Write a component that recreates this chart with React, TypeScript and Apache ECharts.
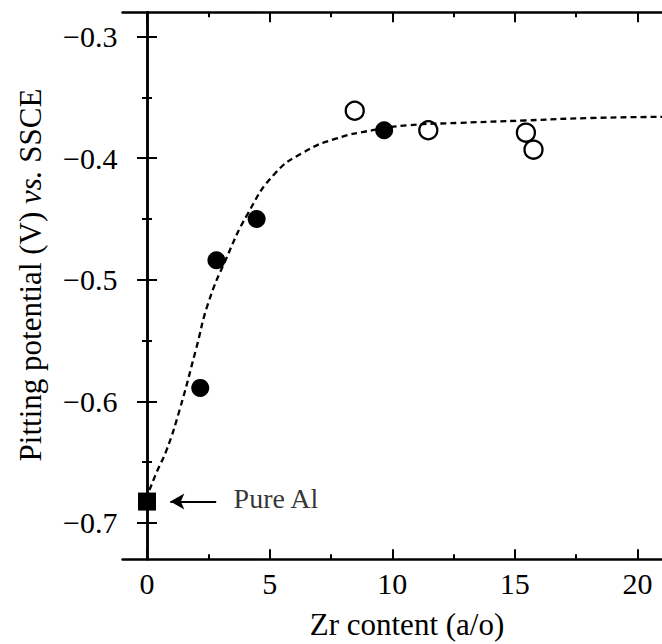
import React, { useEffect, useRef } from 'react';
import * as echarts from 'echarts';

// Data
const pureAlX = [0];
const pureAlY = [-0.6825];
const filledX = [2.17, 2.83, 4.47, 9.67];
const filledY = [-0.589, -0.484, -0.45, -0.377];
const openX = [8.47, 11.47, 15.45, 15.76];
const openY = [-0.361, -0.377, -0.379, -0.393];
const fitX = [0.1, 0.4, 0.8, 1.33, 2.0, 2.5, 3.2, 4.1, 5.2, 6.4, 7.7, 9.2, 10.6, 12.7, 15.4, 18, 21];
const fitY = [-0.673, -0.658, -0.64, -0.607, -0.557, -0.519, -0.484, -0.446, -0.413, -0.395, -0.384, -0.377, -0.373, -0.371, -0.369, -0.367, -0.366];
const xMajor = [0, 5, 10, 15, 20];
const xMinor = [2.5, 7.5, 12.5, 17.5];
const yMajor = [-0.7, -0.6, -0.5, -0.4, -0.3];
const yMinor = [-0.65, -0.55, -0.45, -0.35];
const annotationText = 'Pure Al';
const arrowTailX = 2.82;
const arrowHeadX = 0.95;
const annotationX = 3.53;

const FONT = 'Liberation Serif';

const zip = (xs: number[], ys: number[]) => xs.map((x, i) => [x, ys[i]]);

export default function App() {
  const ref = useRef<HTMLDivElement>(null);
  useEffect(() => {
    if (!ref.current) return;
    const chart = echarts.init(ref.current, undefined, { renderer: 'svg' });
    const axisLine = { show: true, lineStyle: { color: '#000', width: 2.5 } };
    const tickStyle = { color: '#000', width: 2 };
    const xBase = { type: 'value', min: -1, max: 21, gridIndex: 0, splitLine: { show: false } };
    const yBase = { type: 'value', min: -0.73, max: -0.28, gridIndex: 0, splitLine: { show: false } };
    const option: any = {
      animation: false,
      textStyle: { fontFamily: FONT },
      grid: { left: 122.5, top: 12.3, width: 547.5, height: 547, containLabel: false },
      xAxis: [
        {
          ...xBase, position: 'bottom', axisLine,
          axisTick: { show: true, inside: true, length: 10, lineStyle: tickStyle, customValues: xMajor },
          axisLabel: { show: true, customValues: xMajor, fontSize: 30, fontFamily: FONT, color: '#000', margin: 9, formatter: (v: number) => String(v) },
        },
        {
          ...xBase, position: 'bottom', axisLine: { show: false },
          axisTick: { show: true, inside: true, length: 5, lineStyle: tickStyle, customValues: xMinor },
          axisLabel: { show: false },
        },
        {
          ...xBase, position: 'top', axisLine,
          axisTick: { show: true, inside: true, length: 10, lineStyle: tickStyle, customValues: xMajor },
          axisLabel: { show: false },
        },
        {
          ...xBase, position: 'top', axisLine: { show: false },
          axisTick: { show: true, inside: true, length: 5, lineStyle: tickStyle, customValues: xMinor },
          axisLabel: { show: false },
        },
      ],
      yAxis: [
        {
          ...yBase, position: 'left', axisLine,
          axisTick: { show: true, inside: true, length: 10, lineStyle: tickStyle, customValues: yMajor },
          axisLabel: { show: true, customValues: yMajor, fontSize: 30, fontFamily: FONT, color: '#000', margin: 5, formatter: (v: number) => v.toFixed(1).replace('-', '\u2212') },
        },
        {
          ...yBase, position: 'left', axisLine: { show: false },
          axisTick: { show: true, inside: true, length: 5, lineStyle: tickStyle, customValues: yMinor },
          axisLabel: { show: false },
        },
        {
          ...yBase, position: 'right', axisLine,
          axisTick: { show: true, inside: true, length: 10, lineStyle: tickStyle, customValues: yMajor },
          axisLabel: { show: false },
        },
        {
          ...yBase, position: 'right', axisLine: { show: false },
          axisTick: { show: true, inside: true, length: 5, lineStyle: tickStyle, customValues: yMinor },
          axisLabel: { show: false },
        },
      ],
      series: [
        {
          type: 'line', name: 'fit', data: zip(fitX, fitY), smooth: true, showSymbol: false, symbol: 'none',
          lineStyle: { color: '#000', width: 2.3, type: [6, 4] }, z: 1,
        },
        {
          type: 'scatter', name: 'Pure Al', data: zip(pureAlX, pureAlY), symbol: 'rect', symbolSize: 18,
          itemStyle: { color: '#000', opacity: 1 }, z: 3,
          markLine: {
            silent: true, animation: false,
            symbol: ['none', 'arrow'], symbolSize: [12, 14],
            label: { show: false },
            lineStyle: { color: '#000', width: 2, type: 'solid', opacity: 1 },
            data: [[{ coord: [arrowTailX, pureAlY[0]] }, { coord: [arrowHeadX, pureAlY[0]] }]],
          },
        },
        {
          type: 'scatter', name: 'filled', data: zip(filledX, filledY), symbol: 'circle', symbolSize: 18,
          itemStyle: { color: '#000', opacity: 1 }, z: 3,
        },
        {
          type: 'scatter', name: 'open', data: zip(openX, openY), symbol: 'circle', symbolSize: 18,
          itemStyle: { color: 'rgba(0,0,0,0)', borderColor: '#000', borderWidth: 2.3, opacity: 1 }, z: 3,
        },
        {
          type: 'scatter', name: 'label', data: [[annotationX, pureAlY[0]]], symbolSize: 0, silent: true,
          label: { show: true, position: 'right', distance: 0, offset: [0, -3], formatter: annotationText, fontSize: 28, fontFamily: FONT, color: '#000' },
          z: 4,
        },
      ],
      graphic: [
        {
          type: 'text', x: 407, y: 624,
          style: { text: 'Zr content (a/o)', fontSize: 31, fontFamily: FONT, fill: '#000', align: 'center', verticalAlign: 'middle', textAlign: 'center', textVerticalAlign: 'middle' },
        },
        {
          type: 'text', x: 30, y: 275, rotation: Math.PI / 2,
          style: {
            text: '{n|Pitting potential (V) }{i|vs.}{n| SSCE}',
            fontSize: 31, fontFamily: FONT, fill: '#000', align: 'center', verticalAlign: 'middle', textAlign: 'center', textVerticalAlign: 'middle',
            rich: {
              n: { fontSize: 31, fontFamily: FONT, fill: '#000' },
              i: { fontSize: 31, fontFamily: FONT, fontStyle: 'italic', fill: '#000' },
            },
          },
        },
      ],
    };
    chart.setOption(option);
    return () => chart.dispose();
  }, []);
  return (
    <div style={{ position: 'absolute', left: 0, top: 0, width: 662, height: 644, background: '#fff' }}>
      <div ref={ref} style={{ width: 662, height: 644 }} />
    </div>
  );
}
